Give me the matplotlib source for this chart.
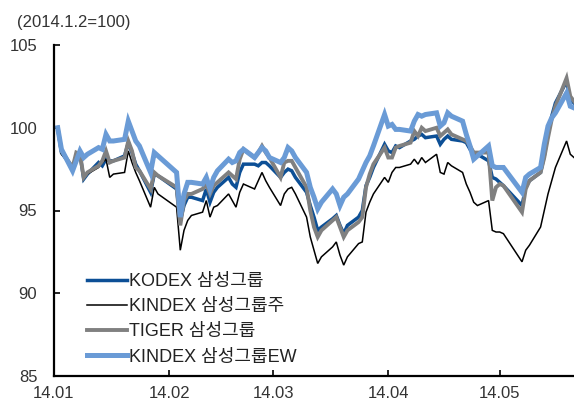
import numpy as np
import pandas as pd
import matplotlib
matplotlib.use("Agg")
from matplotlib import pyplot as plt
import matplotlib.dates as mdates

plt.rcParams['font.family'] = ['Liberation Sans', 'Noto Sans CJK KR', 'DejaVu Sans']

# trading days, Jan 2 .. May 21 2014 (Korean holidays removed)
holidays = ["2014-01-30", "2014-01-31", "2014-05-05", "2014-05-06"]
dates = pd.bdate_range("2014-01-02", "2014-05-21")
dates = dates[~dates.isin(pd.to_datetime(holidays))]

labels = ["KODEX 삼성그룹", "KINDEX 삼성그룹주", "TIGER 삼성그룹", "KINDEX 삼성그룹EW"]

kodex = [
    100.0, 98.5, 97.6, 98.3, 98.4, 96.9, 97.2, 97.9, 97.7, 98.1,
    98.0, 98.0, 98.3, 99.1, 98.5, 97.8, 97.4, 96.1, 97.2, 97.1,
    96.3, 94.4, 95.3, 95.8, 95.8, 95.6, 96.3, 95.5, 96.1, 96.4,
    97.0, 96.6, 96.4, 97.3, 97.8, 97.8, 97.7, 97.9, 97.9, 97.7,
    97.0, 97.3, 97.5, 97.4, 97.0, 96.1, 95.3, 94.6, 93.8, 94.0,
    94.5, 94.7, 94.1, 93.6, 94.1, 94.6, 95.0, 96.5, 97.0, 97.6,
    99.0, 98.6, 98.5, 98.9, 98.8, 99.2, 99.3, 99.5, 99.6, 99.4,
    99.5, 99.0, 99.3, 99.5, 99.3, 99.2, 99.1, 98.7, 98.4, 98.4,
    98.0, 97.0, 96.9, 96.7, 96.5, 95.3, 96.4, 96.8, 97.3, 98.3,
    99.6, 100.7, 101.5, 102.8, 101.7, 101.5]

kindex = [
    100.0, 98.4, 97.6, 98.5, 98.3, 97.0, 97.2, 97.6, 97.9, 98.1,
    97.0, 97.2, 97.3, 98.6, 97.9, 97.3, 96.8, 95.2, 96.4, 96.0,
    95.2, 92.6, 93.8, 94.4, 94.7, 94.9, 95.6, 94.6, 95.2, 95.3,
    96.0, 95.6, 95.2, 96.1, 96.6, 96.3, 96.8, 97.3, 96.8, 96.4,
    95.3, 96.0, 96.3, 96.4, 96.0, 94.6, 93.4, 92.6, 91.8, 92.2,
    92.8, 93.1, 92.3, 91.7, 92.2, 93.0, 93.1, 94.9, 95.5, 96.0,
    97.0, 96.7, 97.3, 97.6, 97.6, 97.8, 98.1, 97.8, 98.2, 97.9,
    98.4, 97.3, 97.2, 97.9, 97.7, 97.3, 96.6, 96.1, 95.5, 95.3,
    95.6, 93.8, 93.7, 93.7, 93.6, 91.9, 92.6, 92.9, 94.0, 95.0,
    96.0, 96.8, 97.6, 99.2, 98.4, 98.2]

tiger = [
    100.0, 98.6, 97.6, 98.5, 98.4, 97.0, 97.3, 97.7, 98.0, 98.6,
    97.9, 98.0, 98.2, 99.2, 98.6, 97.6, 97.4, 96.3, 97.3, 97.1,
    96.4, 94.1, 95.6, 96.0, 96.0, 96.3, 96.6, 96.0, 96.5, 96.7,
    97.3, 97.1, 96.9, 98.1, 98.7, 98.2, 98.5, 98.9, 98.5, 98.2,
    97.0, 97.9, 98.0, 98.0, 97.6, 96.4, 95.0, 94.0, 93.4, 93.8,
    94.4, 94.6, 94.0, 93.4, 93.8, 94.3, 94.6, 96.4, 97.2, 97.8,
    98.8, 98.2, 98.2, 98.8, 98.9, 99.1, 99.8, 99.5, 100.0, 99.8,
    100.0, 99.5, 99.7, 99.9, 99.6, 99.3, 99.2, 98.9, 98.5, 98.5,
    98.5, 95.6, 96.4, 96.6, 96.5, 94.9, 96.3, 96.8, 97.3, 98.2,
    99.4, 100.5, 101.3, 103.0, 101.9, 101.6]

kindex_ew = [
    100.0, 98.7, 97.4, 98.0, 98.6, 98.2, 98.4, 98.8, 98.7, 99.6,
    99.2, 99.2, 99.3, 100.4, 99.8, 99.2, 98.9, 97.3, 98.5, 98.3,
    97.3, 94.6, 96.0, 96.7, 96.7, 96.6, 97.0, 96.3, 97.0, 97.4,
    98.1, 97.9, 98.0, 98.5, 98.7, 98.2, 98.5, 98.8, 98.6, 98.2,
    97.9, 98.2, 98.8, 98.6, 98.2, 97.3, 96.4, 95.8, 95.1, 95.5,
    96.3, 96.0, 95.3, 95.8, 96.0, 96.9, 97.4, 97.9, 98.3, 98.9,
    100.8, 100.1, 100.2, 99.9, 99.9, 99.8, 100.4, 100.8, 100.7, 100.8,
    100.9, 100.1, 100.3, 100.9, 100.7, 100.4, 99.6, 98.9, 98.1, 98.3,
    98.9, 97.7, 97.6, 97.6, 97.6, 96.1, 97.0, 97.2, 97.6, 99.0,
    100.1, 100.6, 100.9, 102.1, 101.3, 101.2]

series = [kodex, kindex, tiger, kindex_ew]
colors = ["#0c4f96", "#000000", "#808080", "#6a9bd6"]
widths = [2.5, 1.1, 2.8, 3.6]

fig = plt.figure(figsize=(5.74, 4.08), dpi=100)
ax = fig.add_axes([54 / 574, 32 / 408, 1 - 54 / 574, 331 / 408])

for vals, lab, c, w in zip(series, labels, colors, widths):
    ax.plot(dates, vals, color=c, lw=w, label=lab, solid_joinstyle="miter")

ax.set_ylim(85, 105)
ax.set_yticks([85, 90, 95, 100, 105])
ax.set_xlim(pd.Timestamp("2014-01-01"), pd.Timestamp("2014-05-21"))
ax.xaxis.set_major_locator(mdates.MonthLocator())
ax.xaxis.set_major_formatter(mdates.DateFormatter("%y.%m"))

for s in ["top", "right"]:
    ax.spines[s].set_visible(False)
for s in ["left", "bottom"]:
    ax.spines[s].set_linewidth(1.6)
ax.tick_params(axis="both", direction="in", length=4, width=1.2,
               labelsize=12, labelcolor="#333333")
ax.tick_params(axis="y", pad=12)
ax.tick_params(axis="x", pad=7)

fig.text(17 / 574, 1 - 27 / 408, "(2014.1.2=100)", fontsize=12,
         color="#333333", ha="left", va="baseline")

leg = ax.legend(loc="upper left", bbox_to_anchor=(80 / 574, 1 - 266 / 408),
                bbox_transform=fig.transFigure, frameon=False, fontsize=13,
                handlelength=2.2, handletextpad=0.1, labelspacing=0.45,
                borderaxespad=0)
for t in leg.get_texts():
    t.set_color("#222222")

fig.savefig("out.png", dpi=100)
